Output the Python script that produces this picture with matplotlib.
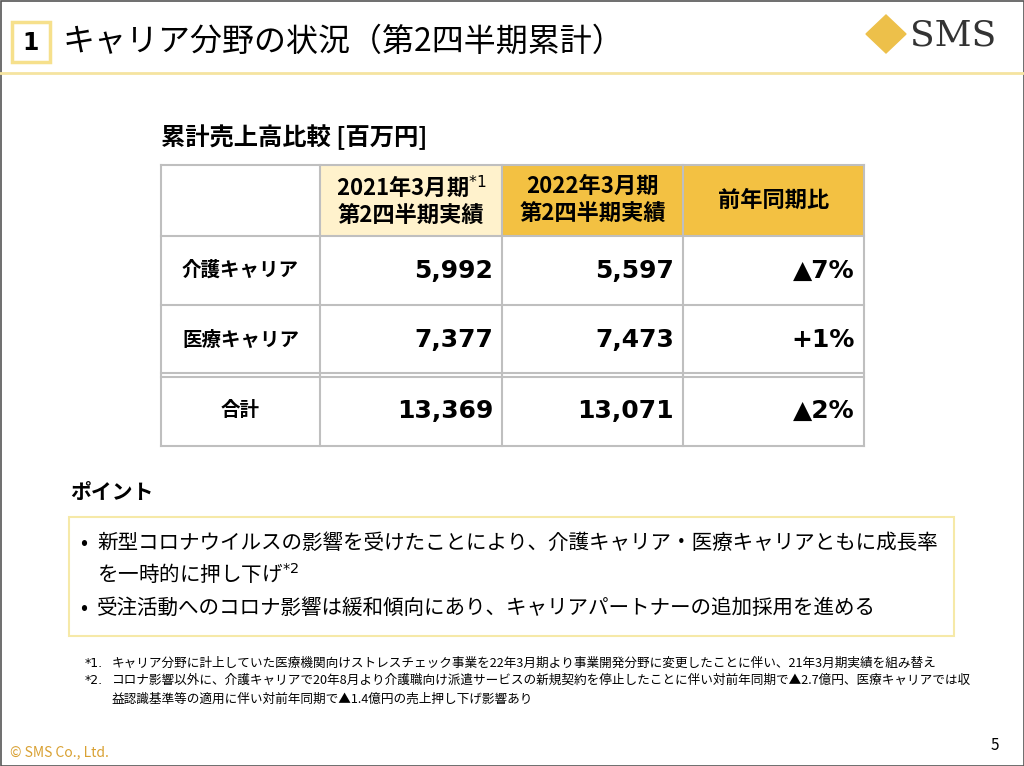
import matplotlib
matplotlib.use("Agg")
import matplotlib.pyplot as plt
from matplotlib.patches import Rectangle, Polygon

plt.rcParams['font.family'] = ['Noto Sans CJK JP', 'DejaVu Sans']

# data
title = "キャリア分野の状況（第2四半期累計）"
table_title = "累計売上高比較 [百万円]"
col_headers = ["2021年3月期$^{*1}$\n第2四半期実績", "2022年3月期\n第2四半期実績", "前年同期比"]
segments = ["介護キャリア", "医療キャリア", "合計"]
fy2021 = [5992, 7377, 13369]
fy2022 = [5597, 7473, 13071]
yoy = ["▲7%", "+1%", "▲2%"]
points = [
    "新型コロナウイルスの影響を受けたことにより、介護キャリア・医療キャリアともに成長率\nを一時的に押し下げ$^{*2}$",
    "受注活動へのコロナ影響は緩和傾向にあり、キャリアパートナーの追加採用を進める",
]
notes = [
    ("*1.", "キャリア分野に計上していた医療機関向けストレスチェック事業を22年3月期より事業開発分野に変更したことに伴い、21年3月期実績を組み替え"),
    ("*2.", "コロナ影響以外に、介護キャリアで20年8月より介護職向け派遣サービスの新規契約を停止したことに伴い対前年同期で▲2.7億円、医療キャリアでは収\n益認識基準等の適用に伴い対前年同期で▲1.4億円の売上押し下げ影響あり"),
]

GOLD = "#F3C142"
CREAM = "#FFF2CC"
GRID = "#BFBFBF"
PALE = "#F5E4A0"

fig = plt.figure(figsize=(10.24, 7.66), dpi=100)
ax = fig.add_axes([0, 0, 1, 1])
ax.set_xlim(0, 1024)
ax.set_ylim(766, 0)
ax.axis("off")

# slide frame + header
ax.add_patch(Rectangle((0.5, 0.5), 1023, 765, fill=False, ec="#555555", lw=1.2))
ax.plot([0, 1024], [73, 73], color=PALE, lw=2)
ax.add_patch(Rectangle((12, 22), 38, 40, fill=False, ec="#F6E08C", lw=2.5))
ax.text(31, 43, "1", ha="center", va="center", fontsize=17, fontweight="bold", family="DejaVu Sans")
ax.text(63, 42, title, ha="left", va="center", fontsize=23)

# logo
ax.add_patch(Polygon([(866, 34), (886, 15), (906, 34), (886, 53)], closed=True, color="#EDC04A"))
ax.text(910, 35, "SMS", ha="left", va="center", fontsize=26, family="DejaVu Serif", color="#333333")

# table
ax.text(161, 137, table_title, ha="left", va="center", fontsize=17.5, fontweight="bold")
xs = [161, 320, 502, 683, 864]
ys = [165, 236, 305, 375, 446]
fills = [None, CREAM, GOLD, GOLD]
for j in range(4):
    if fills[j]:
        ax.add_patch(Rectangle((xs[j], ys[0]), xs[j + 1] - xs[j], ys[1] - ys[0], color=fills[j], lw=0))
for j, h in enumerate(col_headers):
    ax.text((xs[j + 1] + xs[j + 2]) / 2, (ys[0] + ys[1]) / 2, h, ha="center", va="center",
            fontsize=16, fontweight="bold", linespacing=1.3)
for i, seg in enumerate(segments):
    yc = (ys[i + 1] + ys[i + 2]) / 2
    ax.text((xs[0] + xs[1]) / 2, yc, seg, ha="center", va="center", fontsize=14, fontweight="bold")
    ax.text(xs[2] - 9, yc, f"{fy2021[i]:,}", ha="right", va="center", fontsize=18,
            fontweight="bold", family="DejaVu Sans")
    ax.text(xs[3] - 9, yc, f"{fy2022[i]:,}", ha="right", va="center", fontsize=18,
            fontweight="bold", family="DejaVu Sans")
    ax.text(xs[4] - 9, yc, yoy[i], ha="right", va="center", fontsize=18,
            fontweight="bold", family="DejaVu Sans")
for x in xs:
    ax.plot([x, x], [ys[0], ys[-1]], color=GRID, lw=1.5)
for k, y in enumerate(ys):
    if k == 3:
        ax.plot([xs[0], xs[-1]], [y - 2.5, y - 2.5], color=GRID, lw=1.5)
        ax.plot([xs[0], xs[-1]], [y + 1.5, y + 1.5], color=GRID, lw=1.5)
    else:
        ax.plot([xs[0], xs[-1]], [y, y], color=GRID, lw=1.5)

# points
ax.text(70, 492, "ポイント", ha="left", va="center", fontsize=15, fontweight="bold")
ax.add_patch(Rectangle((69, 517), 885, 119, fill=False, ec="#F6E9A8", lw=1.5))
py = [545, 610]
for k, p in enumerate(points):
    ax.text(80, py[k] - 2, "•", ha="left", va="center", fontsize=15)
    ax.text(97, py[k] - 13, p, ha="left", va="top", fontsize=14.8, linespacing=1.35)

# footnotes
ny = [663, 680]
for k, (mark, txt) in enumerate(notes):
    ax.text(85, ny[k] - 6, mark, ha="left", va="top", fontsize=9, family="DejaVu Sans")
    ax.text(112, ny[k] - 6, txt, ha="left", va="top", fontsize=9.1, linespacing=1.55)

ax.text(10, 752, "© SMS Co., Ltd.", ha="left", va="center", fontsize=10, color="#D9A133")
ax.text(995, 745, "5", ha="center", va="center", fontsize=11)

fig.savefig("out.png", dpi=100)
